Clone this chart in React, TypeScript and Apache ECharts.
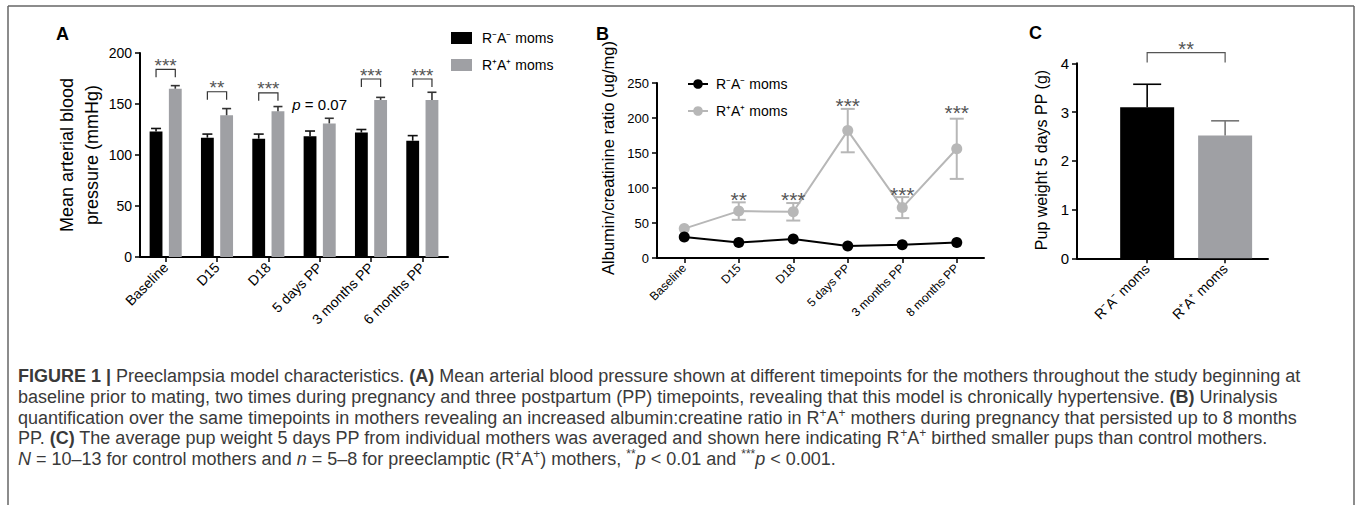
import React, { useEffect, useRef } from 'react';
import * as echarts from 'echarts';

const FONT = '"Liberation Sans", Arial, Helvetica, sans-serif';

// ---------- Panel A : mean arterial blood pressure ----------
const timepointsA = ['Baseline', 'D15', 'D18', '5 days PP', '3 months PP', '6 months PP'];
const mapCtrlMean = [123, 117, 116, 118.5, 122, 114];
const mapCtrlSem = [3, 3.5, 4.5, 5, 3, 5];
const mapPeMean = [165, 139, 143, 131, 154, 154];
const mapPeSem = [3, 6.5, 4.5, 5, 2.5, 7.5];
const mapSigText = ['***', '**', '***', '{i|p} = 0.07', '***', '***'];
const mapSigLevel = [184, 162, 161, 150, 174.5, 174.5];
const mapSigBracket = [true, true, true, false, true, true];

// ---------- Panel B : albumin / creatinine ratio ----------
const timepointsB = ['Baseline', 'D15', 'D18', '5 days PP', '3 months PP', '8 months PP'];
const acrCtrlMean = [30, 22, 27, 17, 19, 22];
const acrPeMean = [42, 67, 66, 182, 72, 156];
const acrPeSem = [0, 12.5, 12.5, 31, 15, 43];
const acrSigText = ['', '**', '***', '***', '***', '***'];
const acrSigLevel = [0, 90, 90, 223, 97, 214];

// ---------- Panel C : pup weight ----------
const groupsC = ['R⁻A⁻ moms', 'R⁺A⁺ moms'];
const pupMean = [3.1, 2.52];
const pupSem = [0.47, 0.3];
const pupSigText = '**';
const pupSigLevel = 4.22;

const legendNames: Record<string, string> = {
  A_ctrl: 'R⁻A⁻ moms',
  A_pe: 'R⁺A⁺ moms',
  B_ctrl: 'R⁻A⁻ moms',
  B_pe: 'R⁺A⁺ moms',
};

const BLACK = '#000000';
const GREY_BAR = '#9fa0a4';
const GREY_LINE = '#b7b7b7';
const STAR = '#555555';
const CAP = '#3a3a3a';

const captionLines = [
  '{b|FIGURE 1 |} Preeclampsia model characteristics. {b|(A)} Mean arterial blood pressure shown at different timepoints for the mothers throughout the study beginning at',
  'baseline prior to mating, two times during pregnancy and three postpartum (PP) timepoints, revealing that this model is chronically hypertensive. {b|(B)} Urinalysis',
  'quantification over the same timepoints in mothers revealing an increased albumin:creatine ratio in R{s|+}A{s|+} mothers during pregnancy that persisted up to 8 months',
  'PP. {b|(C)} The average pup weight 5 days PP from individual mothers was averaged and shown here indicating R{s|+}A{s|+} birthed smaller pups than control mothers.',
  '{i|N} = 10–13 for control mothers and {i|n} = 5–8 for preeclamptic (R{s|+}A{s|+}) mothers, {s|**}{i|p} < 0.01 and {s|***}{i|p} < 0.001.',
];

function yAxis(grid: number, min: number, max: number, interval: number, fontSize: number) {
  return {
    type: 'value',
    gridIndex: grid,
    min,
    max,
    interval,
    axisLine: { show: true, onZero: false, lineStyle: { color: '#000', width: 2 } },
    axisTick: { show: true, length: 5, lineStyle: { color: '#000', width: 1.5 } },
    axisLabel: { color: '#000', fontSize, margin: 8, fontFamily: FONT },
    splitLine: { show: false },
  };
}

function xCat(grid: number, data: string[], fontSize: number) {
  return {
    type: 'category',
    gridIndex: grid,
    data,
    boundaryGap: true,
    axisLine: { show: true, onZero: false, lineStyle: { color: '#000', width: 2 } },
    axisTick: { show: true, alignWithLabel: true, length: 5, lineStyle: { color: '#000', width: 1.5 } },
    axisLabel: { color: '#000', fontSize, rotate: 45, interval: 0, margin: 8, fontFamily: FONT },
    splitLine: { show: false },
  };
}

export default function App() {
  const ref = useRef<HTMLDivElement>(null);

  useEffect(() => {
    if (!ref.current) return;
    const chart = echarts.init(ref.current, undefined, { renderer: 'svg' });

    const barOffset = (band: number) => band * 0.1875;

    const errUp = (sign: number, color: string, cap: number) => (params: any, api: any) => {
      const i = api.value(0);
      const m = api.value(1);
      const e = api.value(2);
      const band = api.size([1, 0])[0];
      const p0 = api.coord([i, m]);
      const p1 = api.coord([i, m + e]);
      const x = p0[0] + sign * barOffset(band);
      return {
        type: 'group',
        children: [
          { type: 'line', shape: { x1: x, y1: p0[1], x2: x, y2: p1[1] }, style: { stroke: color, lineWidth: 1.6 } },
          { type: 'line', shape: { x1: x - cap / 2, y1: p1[1], x2: x + cap / 2, y2: p1[1] }, style: { stroke: color, lineWidth: 1.6 } },
        ],
      };
    };

    const centred = { align: 'center', verticalAlign: 'middle', textAlign: 'center', textVerticalAlign: 'middle' };

    const option: any = {
      animation: false,
      grid: [
        { left: 140, top: 53, width: 308, height: 204, containLabel: false, outerBoundsMode: 'none' },
        { left: 657, top: 83, width: 327, height: 175, containLabel: false, outerBoundsMode: 'none' },
        { left: 1077, top: 63.3, width: 191, height: 195, containLabel: false, outerBoundsMode: 'none' },
      ],
      xAxis: [
        xCat(0, timepointsA, 14),
        xCat(1, timepointsB, 12),
        {
          type: 'value',
          gridIndex: 2,
          min: -0.9,
          max: 1.55,
          axisLine: { show: true, onZero: false, lineStyle: { color: '#000', width: 2 } },
          axisTick: { show: true, customValues: [0, 1], length: 5, lineStyle: { color: '#000', width: 1.5 } },
          axisLabel: {
            show: true,
            customValues: [0, 1],
            formatter: (v: number) => groupsC[Math.round(v)] ?? '',
            rotate: 45,
            fontSize: 14,
            color: '#000',
            margin: 8,
            fontFamily: FONT,
          },
          splitLine: { show: false },
        },
      ],
      yAxis: [yAxis(0, 0, 200, 50, 14), yAxis(1, 0, 250, 50, 13), yAxis(2, 0, 4, 1, 15)],
      legend: [
        {
          data: ['A_ctrl', 'A_pe'],
          left: 451,
          top: 31,
          orient: 'vertical',
          padding: 0,
          itemWidth: 21,
          itemHeight: 12,
          itemGap: 13,
          icon: 'rect',
          selectedMode: false,
          formatter: (n: string) => legendNames[n],
          textStyle: { fontSize: 14, color: '#000', fontFamily: FONT, padding: [0, 0, 0, 5] },
        },
        {
          data: ['B_ctrl', 'B_pe'],
          left: 687,
          top: 77,
          orient: 'vertical',
          padding: 0,
          itemWidth: 20,
          itemHeight: 12,
          itemGap: 13,
          selectedMode: false,
          formatter: (n: string) => legendNames[n],
          textStyle: { fontSize: 14, color: '#000', fontFamily: FONT, padding: [0, 0, 0, 3] },
        },
      ],
      series: [
        // Panel A bars
        {
          type: 'bar', name: 'A_ctrl', xAxisIndex: 0, yAxisIndex: 0, data: mapCtrlMean,
          barWidth: '25%', barGap: '50%', itemStyle: { color: BLACK },
        },
        {
          type: 'bar', name: 'A_pe', xAxisIndex: 0, yAxisIndex: 0, data: mapPeMean,
          barWidth: '25%', barGap: '50%', itemStyle: { color: GREY_BAR },
        },
        {
          type: 'custom', xAxisIndex: 0, yAxisIndex: 0, z: 3, encode: { x: 0, y: 1 },
          data: mapCtrlMean.map((m, i) => [i, m, mapCtrlSem[i]]),
          renderItem: errUp(-1, '#111', 10),
        },
        {
          type: 'custom', xAxisIndex: 0, yAxisIndex: 0, z: 3, encode: { x: 0, y: 1 },
          data: mapPeMean.map((m, i) => [i, m, mapPeSem[i]]),
          renderItem: errUp(1, '#333', 9),
        },
        {
          type: 'custom', xAxisIndex: 0, yAxisIndex: 0, z: 3, encode: { x: 0, y: 1 },
          data: mapSigLevel.map((v, i) => [i, v]),
          renderItem: (params: any, api: any) => {
            const idx = params.dataIndex;
            const i = api.value(0);
            const v = api.value(1);
            const band = api.size([1, 0])[0];
            const off = barOffset(band);
            const p = api.coord([i, v]);
            const children: any[] = [];
            if (mapSigBracket[idx]) {
              const legY = p[1] + 8;
              children.push({
                type: 'polyline',
                shape: { points: [[p[0] - off, legY], [p[0] - off, p[1]], [p[0] + off, p[1]], [p[0] + off, legY]] },
                style: { stroke: '#333', lineWidth: 1.2, fill: null },
              });
              children.push({
                type: 'text', x: p[0], y: p[1] - 4,
                style: { text: mapSigText[idx], fill: STAR, fontSize: 19, fontFamily: FONT, ...centred },
              });
            } else {
              children.push({
                type: 'text', x: p[0], y: p[1],
                style: {
                  text: mapSigText[idx], fill: '#000', fontSize: 15, fontFamily: FONT, ...centred,
                  rich: { i: { fontStyle: 'italic', fontSize: 15, fontFamily: FONT, fill: '#000' } },
                },
              });
            }
            return { type: 'group', children };
          },
        },
        // Panel B lines
        {
          type: 'line', name: 'B_ctrl', xAxisIndex: 1, yAxisIndex: 1, data: acrCtrlMean,
          symbol: 'circle', symbolSize: 11, lineStyle: { color: BLACK, width: 2 }, itemStyle: { color: BLACK }, z: 4,
        },
        {
          type: 'line', name: 'B_pe', xAxisIndex: 1, yAxisIndex: 1, data: acrPeMean,
          symbol: 'circle', symbolSize: 11, lineStyle: { color: GREY_LINE, width: 2 }, itemStyle: { color: GREY_LINE }, z: 3,
        },
        {
          type: 'custom', xAxisIndex: 1, yAxisIndex: 1, z: 3, encode: { x: 0, y: 1 },
          data: acrPeMean.map((m, i) => [i, m, acrPeSem[i]]),
          renderItem: (params: any, api: any) => {
            const i = api.value(0);
            const m = api.value(1);
            const e = api.value(2);
            if (!e) return { type: 'group', children: [] };
            const lo = api.coord([i, m - e]);
            const hi = api.coord([i, m + e]);
            const x = lo[0];
            const st = { stroke: GREY_LINE, lineWidth: 2 };
            return {
              type: 'group',
              children: [
                { type: 'line', shape: { x1: x, y1: lo[1], x2: x, y2: hi[1] }, style: st },
                { type: 'line', shape: { x1: x - 7, y1: lo[1], x2: x + 7, y2: lo[1] }, style: st },
                { type: 'line', shape: { x1: x - 7, y1: hi[1], x2: x + 7, y2: hi[1] }, style: st },
              ],
            };
          },
        },
        {
          type: 'custom', xAxisIndex: 1, yAxisIndex: 1, z: 5, encode: { x: 0, y: 1 },
          data: acrSigLevel.map((v, i) => [i, v]),
          renderItem: (params: any, api: any) => {
            const idx = params.dataIndex;
            const t = acrSigText[idx];
            if (!t) return { type: 'group', children: [] };
            const p = api.coord([api.value(0), api.value(1)]);
            return {
              type: 'text', x: p[0], y: p[1] + 4,
              style: { text: t, fill: STAR, fontSize: 21, fontFamily: FONT, ...centred },
            };
          },
        },
        // Panel C bars
        {
          type: 'bar', name: 'C', xAxisIndex: 2, yAxisIndex: 2, barWidth: 54,
          data: pupMean.map((m, i) => ({ value: [i, m], itemStyle: { color: i === 0 ? BLACK : GREY_BAR } })),
        },
        {
          type: 'custom', xAxisIndex: 2, yAxisIndex: 2, z: 3, encode: { x: 0, y: 1 },
          data: pupMean.map((m, i) => [i, m, pupSem[i]]),
          renderItem: (params: any, api: any) => {
            const i = api.value(0);
            const m = api.value(1);
            const e = api.value(2);
            const p0 = api.coord([i, m]);
            const p1 = api.coord([i, m + e]);
            const color = i === 0 ? '#000' : '#777';
            const st = { stroke: color, lineWidth: 1.6 };
            return {
              type: 'group',
              children: [
                { type: 'line', shape: { x1: p0[0], y1: p0[1], x2: p0[0], y2: p1[1] }, style: st },
                { type: 'line', shape: { x1: p0[0] - 14, y1: p1[1], x2: p0[0] + 14, y2: p1[1] }, style: st },
              ],
            };
          },
        },
        {
          type: 'custom', xAxisIndex: 2, yAxisIndex: 2, z: 3, encode: { x: 0, y: 1 },
          data: [[0, pupSigLevel]],
          renderItem: (params: any, api: any) => {
            const a = api.coord([0, api.value(1)]);
            const b = api.coord([1, api.value(1)]);
            const legY = a[1] + 10;
            return {
              type: 'group',
              children: [
                {
                  type: 'polyline',
                  shape: { points: [[a[0], legY], [a[0], a[1]], [b[0], b[1]], [b[0], legY]] },
                  style: { stroke: '#555', lineWidth: 1.2, fill: null },
                },
                {
                  type: 'text', x: (a[0] + b[0]) / 2, y: a[1] - 4,
                  style: { text: pupSigText, fill: STAR, fontSize: 20, fontFamily: FONT, ...centred },
                },
              ],
            };
          },
        },
      ],
      graphic: [
        // frame
        { type: 'line', shape: { x1: 8, y1: 6, x2: 1354, y2: 6 }, style: { stroke: '#666', lineWidth: 1.5 } },
        { type: 'line', shape: { x1: 8, y1: 6, x2: 8, y2: 505 }, style: { stroke: '#666', lineWidth: 1.5 } },
        { type: 'line', shape: { x1: 1354, y1: 6, x2: 1354, y2: 505 }, style: { stroke: '#666', lineWidth: 1.5 } },
        // panel letters
        ...[['A', 56, 34], ['B', 596, 34], ['C', 1029, 33]].map(([t, x, y]) => ({
          type: 'text', x, y,
          style: {
            text: t, fill: '#000', fontSize: 18, fontWeight: 'bold', fontFamily: FONT,
            align: 'left', verticalAlign: 'middle', textAlign: 'left', textVerticalAlign: 'middle',
          },
        })),
        // axis titles
        {
          type: 'text', x: 79, y: 155, rotation: Math.PI / 2,
          style: { text: 'Mean arterial blood\npressure (mmHg)', fill: '#000', fontSize: 18, fontFamily: FONT, lineHeight: 25, ...centred },
        },
        {
          type: 'text', x: 608, y: 158, rotation: Math.PI / 2,
          style: { text: 'Albumin/creatinine ratio (ug/mg)', fill: '#000', fontSize: 16.5, fontFamily: FONT, ...centred },
        },
        {
          type: 'text', x: 1041, y: 160, rotation: Math.PI / 2,
          style: { text: 'Pup weight 5 days PP (g)', fill: '#000', fontSize: 16, fontFamily: FONT, ...centred },
        },
        // caption
        ...captionLines.map((line, k) => ({
          type: 'text', x: 18, y: 376 + 20.75 * k,
          style: {
            text: line, fill: CAP, fontSize: 18, fontFamily: FONT, lineHeight: 22,
            align: 'left', verticalAlign: 'middle', textAlign: 'left', textVerticalAlign: 'middle',
            rich: {
              b: { fontWeight: 'bold', fontSize: 18, fontFamily: FONT, fill: CAP, lineHeight: 22 },
              i: { fontStyle: 'italic', fontSize: 18, fontFamily: FONT, fill: CAP, lineHeight: 22 },
              s: { fontSize: 12, fontFamily: FONT, fill: CAP, lineHeight: 12, verticalAlign: 'top' },
            },
          },
        })),
      ],
    };

    chart.setOption(option);
    return () => chart.dispose();
  }, []);

  return <div ref={ref} style={{ position: 'absolute', left: 0, top: 0, width: 1357, height: 505 }} />;
}
